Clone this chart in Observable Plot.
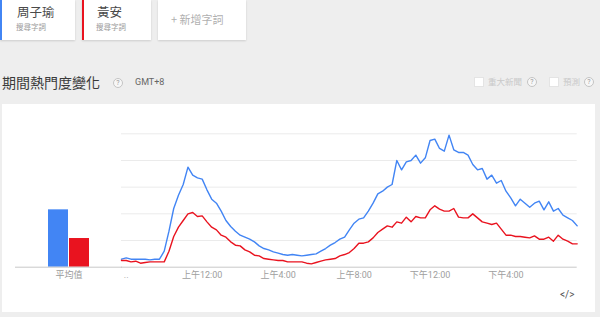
<!DOCTYPE html>
<html>
<head>
<meta charset="utf-8">
<script src="https://cdn.jsdelivr.net/npm/d3@7"></script>
<script src="https://cdn.jsdelivr.net/npm/@observablehq/plot@0.6"></script>
<style>
  html, body { margin: 0; padding: 0; }
  body { width: 600px; height: 317px; overflow: hidden; background: #eeeeee; position: relative;
         font-family: Roboto, "Noto Sans CJK TC", "Noto Sans", sans-serif; }
  .abs { position: absolute; }
  .card { position: absolute; background: #fff; box-shadow: 0 1px 2px rgba(0,0,0,0.14); }
  .term { position: absolute; font-size: 12.5px; line-height: 12px; color: #4a4a4a; font-family: "Noto Sans CJK TC", sans-serif; }
  .sub { position: absolute; font-size: 7.5px; line-height: 8px; color: #999; font-family: "Noto Sans CJK TC", sans-serif; }
  .help { position: absolute; width: 8px; height: 8px; border: 1px solid #c4c4c4; border-radius: 50%;
          font-size: 7px; line-height: 8px; text-align: center; color: #999; background: #f7f7f7; }
  .chk { position: absolute; width: 8px; height: 8px; background: #fff; border: 1px solid #e4e4e4; }
  .opt { position: absolute; font-size: 8.5px; line-height: 9px; color: #c9c9c9; font-family: "Noto Sans CJK TC", sans-serif; }
  .panel { position: absolute; left: 2px; top: 104px; width: 593px; height: 208px; background: #fff; }
  svg { overflow: visible; }
</style>
</head>
<body>
<div class="card" style="left:0;top:0;width:75px;height:40px;border-left:2px solid #4285f4;box-sizing:border-box;"></div>
<div class="card" style="left:82px;top:0;width:69px;height:40px;border-left:2px solid #e9131f;box-sizing:border-box;"></div>
<div class="card" style="left:158px;top:0;width:88px;height:40px;"></div>
<div id="terms"></div>

<div class="abs" style="left:2px;top:75px;font-size:14px;line-height:14px;color:#3a3a3a;font-family:'Noto Sans CJK TC',sans-serif;">期間熱門度變化</div>
<div class="help" style="left:113px;top:78px;">?</div>
<div class="abs" style="left:135px;top:78px;font-size:9px;line-height:9px;color:#666;">GMT+8</div>

<div class="chk" style="left:474px;top:77px;"></div>
<div class="opt" style="left:488px;top:77px;">重大新聞</div>
<div class="help" style="left:527px;top:77px;">?</div>
<div class="chk" style="left:549px;top:77px;"></div>
<div class="opt" style="left:563px;top:77px;">預測</div>
<div class="help" style="left:584px;top:77px;">?</div>

<div class="panel"></div>
<div id="bars" class="abs" style="left:2px;top:104px;"></div>
<div id="lines" class="abs" style="left:110px;top:120px;"></div>
<div class="abs" style="left:560px;top:290px;font-size:10px;line-height:10px;color:#555;">&lt;/&gt;</div>

<script>
// ---- data ----
const names = ["周子瑜", "黃安"];
const colors = ["#4285f4", "#e9131f"];
const subLabel = "搜尋字詞";
const addLabel = "+ 新增字詞";
const avgLabel = "平均值";
const averages = [43, 21.5];

const startHour = -4.25;   // hours relative to 上午12:00
const stepHours = 0.25;
const endHour = 19.75;

const blueValues = [
  6, 7, 6, 6, 6, 6, 5.5, 6, 6, 12, 27, 44, 54, 62, 75, 69, 67,
  66, 58, 51, 48, 42, 35, 30.5, 27, 24, 22.5, 21, 19, 16, 14, 13, 11.5,
  10.5, 9.5, 9, 9.5, 9, 8.5, 9, 9.5, 10, 12, 14, 16.5, 18.5, 21, 22.5, 28, 33,
  36, 37, 42, 48, 55, 57, 60, 62, 80, 73, 79, 80, 84, 78, 82, 95,
  96, 89, 87, 99, 88, 86, 86, 84, 77, 73, 74, 66, 69, 63, 65, 57,
  52, 46, 51, 48, 45, 48, 49.5, 43, 49, 42, 44, 39, 37, 35, 31
];
const redValues = [
  5, 5, 4, 4.5, 3, 3.5, 4, 4, 4, 4, 12, 23, 30, 35, 40, 41, 38,
  38.5, 34, 30, 28, 24, 22.5, 19, 16.5, 16, 13, 11.5, 9, 8.5, 6.5, 6, 5.5,
  5, 5, 4, 4, 4, 4, 3, 2.5, 3.5, 4.5, 5.5, 6, 6.5, 8.5, 9.5, 11, 14,
  18, 18, 19, 22, 26, 28.5, 31, 30, 34, 33, 37.5, 34, 38, 37, 37, 43,
  46, 43.5, 42, 42, 44, 37.5, 37, 37, 40, 37, 34, 33, 32, 33, 28.5, 24,
  24, 23, 23, 22.5, 22, 23.5, 21, 21, 22.5, 19.5, 24, 21, 19.5, 17.5, 17.5
];

const gridValues = [20, 40, 60, 80, 100];
const tickHours = [-4, 0, 4, 8, 12, 16];
const tickLabels = ["..", "上午12:00", "上午4:00", "上午8:00", "下午12:00", "下午4:00"];

// ---- term cards ----
const termsEl = document.getElementById("terms");
const termLeft = [17, 97];
names.forEach((n, i) => {
  const a = document.createElement("div"); a.className = "term";
  a.style.left = termLeft[i] + "px"; a.style.top = "6px"; a.textContent = n; termsEl.appendChild(a);
  const b = document.createElement("div"); b.className = "sub";
  b.style.left = (termLeft[i] - 1) + "px"; b.style.top = "22.5px"; b.textContent = subLabel; termsEl.appendChild(b);
});
const add = document.createElement("div");
add.className = "abs";
add.style.cssText = "left:171px;top:14px;font-size:11px;line-height:11px;color:#b0b0b0;font-family:'Noto Sans CJK TC',sans-serif;";
add.textContent = addLabel;
termsEl.appendChild(add);

// ---- tables ----
const rows = [];
blueValues.forEach((v, i) => rows.push({t: startHour + i * stepHours, v, s: names[0]}));
redValues.forEach((v, i) => rows.push({t: startHour + i * stepHours, v, s: names[1]}));
const avgRows = names.map((s, i) => ({s, v: averages[i]}));
const labelMap = new Map(tickHours.map((h, i) => [h, tickLabels[i]]));

const font = 'Roboto, "Noto Sans CJK TC", sans-serif';

// ---- averages ----
const bars = Plot.plot({
  width: 120, height: 181,
  marginLeft: 13, marginRight: 0, marginTop: 29.3, marginBottom: 18.3,
  style: {background: "transparent", fontFamily: font, fontSize: "9px", overflow: "visible"},
  x: {domain: names, range: [45.7, 86.7], paddingInner: 0.05, paddingOuter: 0, axis: null},
  y: {domain: [0, 100], axis: null},
  color: {domain: names, range: colors},
  marks: [
    Plot.barY(avgRows, {x: "s", y: "v", fill: "s"}),
    Plot.ruleY([0], {stroke: "#c8c8c8", strokeWidth: 1}),
    Plot.text([avgLabel], {frameAnchor: "bottom", dy: 8, fill: "#9a9a9a", fontSize: 9, lineAnchor: "middle"})
  ]
});
document.getElementById("bars").appendChild(bars);

// ---- time series ----
const lines = Plot.plot({
  width: 480, height: 165,
  marginLeft: 11, marginRight: 13.3, marginTop: 13.3, marginBottom: 18.3,
  style: {background: "transparent", fontFamily: font, fontSize: "9px", overflow: "visible"},
  x: {domain: [startHour, endHour], axis: null},
  y: {domain: [0, 100], axis: null},
  color: {domain: names, range: colors},
  marks: [
    Plot.ruleY(gridValues, {stroke: "#ebebeb", strokeWidth: 1}),
    Plot.ruleY([0], {stroke: "#c8c8c8", strokeWidth: 1}),
    Plot.line(rows, {x: "t", y: "v", z: "s", stroke: "s", strokeWidth: 1.4}),
    Plot.axisX({ticks: tickHours, tickFormat: d => labelMap.get(d), tickSize: 0, tickPadding: 4,
                fill: "#9e9e9e", fontSize: 9, label: null})
  ]
});
document.getElementById("lines").appendChild(lines);
</script>
</body>
</html>
